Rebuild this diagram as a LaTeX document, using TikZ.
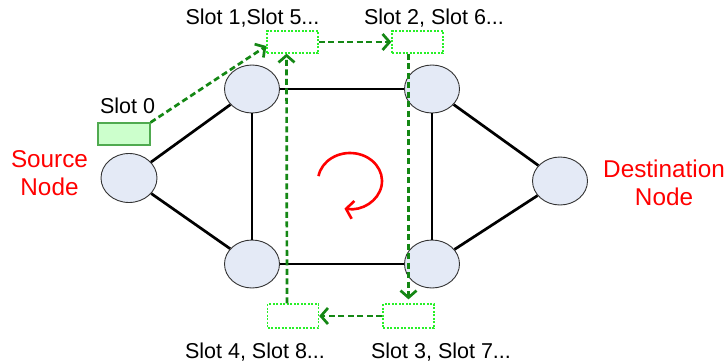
\documentclass[tikz,border=0pt]{standalone}
\usepackage{fontspec}
\setmainfont{Liberation Sans}
\usetikzlibrary{shapes.geometric,arrows.meta,calc}
\definecolor{dgreen}{RGB}{20,135,20}
\definecolor{lgreen}{RGB}{40,240,40}
\definecolor{nodefill}{RGB}{228,234,246}
\definecolor{slotfill}{RGB}{204,255,204}
\definecolor{slotborder}{RGB}{80,170,80}
\begin{document}
\begin{tikzpicture}[x=1pt,y=-1pt,
  netnode/.style={ellipse,draw=black!80,line width=0.9pt,fill=nodefill,minimum width=55pt,minimum height=48pt,inner sep=0pt},
  link/.style={line width=2.7pt,black},
  slotbox/.style={draw=lgreen,line width=1.3pt,dash pattern=on 2pt off 1.5pt,minimum width=51pt,minimum height=22pt,inner sep=0pt},
  flow/.style={draw=dgreen,line width=2.7pt,dash pattern=on 6pt off 3.5pt,-{Straight Barb[length=7pt,width=16pt]}},
  lab/.style={font=\fontsize{21.5}{26}\selectfont,inner sep=0pt,anchor=base},
  redlab/.style={text=red,font=\fontsize{24.3}{27.5}\selectfont,align=center,inner sep=0pt,anchor=base}]
\useasboundingbox (0,0) rectangle (727,362);

% network nodes
\node[netnode,minimum width=56pt,minimum height=49pt] (src) at (129,178) {};
\node[netnode] (tl) at (252,89) {};
\node[netnode] (tr) at (432,89) {};
\node[netnode] (bl) at (252,264) {};
\node[netnode] (br) at (432,264) {};
\node[netnode] (dst) at (560,181) {};

% links
\draw[link] (src) -- (tl);
\draw[link] (src) -- (bl);
\draw[link] (tl) -- (tr);
\draw[link] (bl) -- (br);
\draw[link] (tl) -- (bl);
\draw[link] (tr) -- (br);
\draw[link] (tr) -- (dst);
\draw[link] (br) -- (dst);

% slots
\node[draw=slotborder,fill=slotfill,line width=1.2pt,minimum width=52pt,minimum height=22pt,inner sep=0pt] (s0) at (124,134) {};
\node[slotbox] (s1) at (292.5,42) {};
\node[slotbox] (s2) at (417.5,42) {};
\node[slotbox,minimum height=24pt] (s3) at (408.5,316) {};
\node[slotbox,minimum height=24pt] (s4) at (293,316) {};

% flows
\draw[flow] (s0.north east) -- ([yshift=-4pt]s1.west);
\draw[flow] (s1.east) -- (s2.west);
\draw[flow] (s2.south -| s3.north) -- ([yshift=4pt]s3.north);
\draw[flow] (s3.west) -- (s4.east);
\draw[flow] ([xshift=-6pt]s4.north) -- ([xshift=-6pt]s1.south);

% labels
\node[lab] (l0) at (127.5,113) {Slot 0};
\node[lab] (l1) at (252.5,24) {Slot 1,Slot 5...};
\node[lab] (l2) at (434,24) {Slot 2, Slot 6...};
\node[lab] (l3) at (441,358) {Slot 3, Slot 7...};
\node[lab] (l4) at (255,358) {Slot 4, Slot 8...};
\node[redlab] (srclab) at (49.5,195) {Source\\Node};
\node[redlab] (dstlab) at (664,205) {Destination\\Node};

% rotation arrow
\draw[red,line width=2.6pt,-{Straight Barb[length=7pt,width=18pt]}]
  (350,181) ++(190:32 and 28) arc[start angle=190,end angle=460,x radius=32,y radius=28];
\end{tikzpicture}
\end{document}
